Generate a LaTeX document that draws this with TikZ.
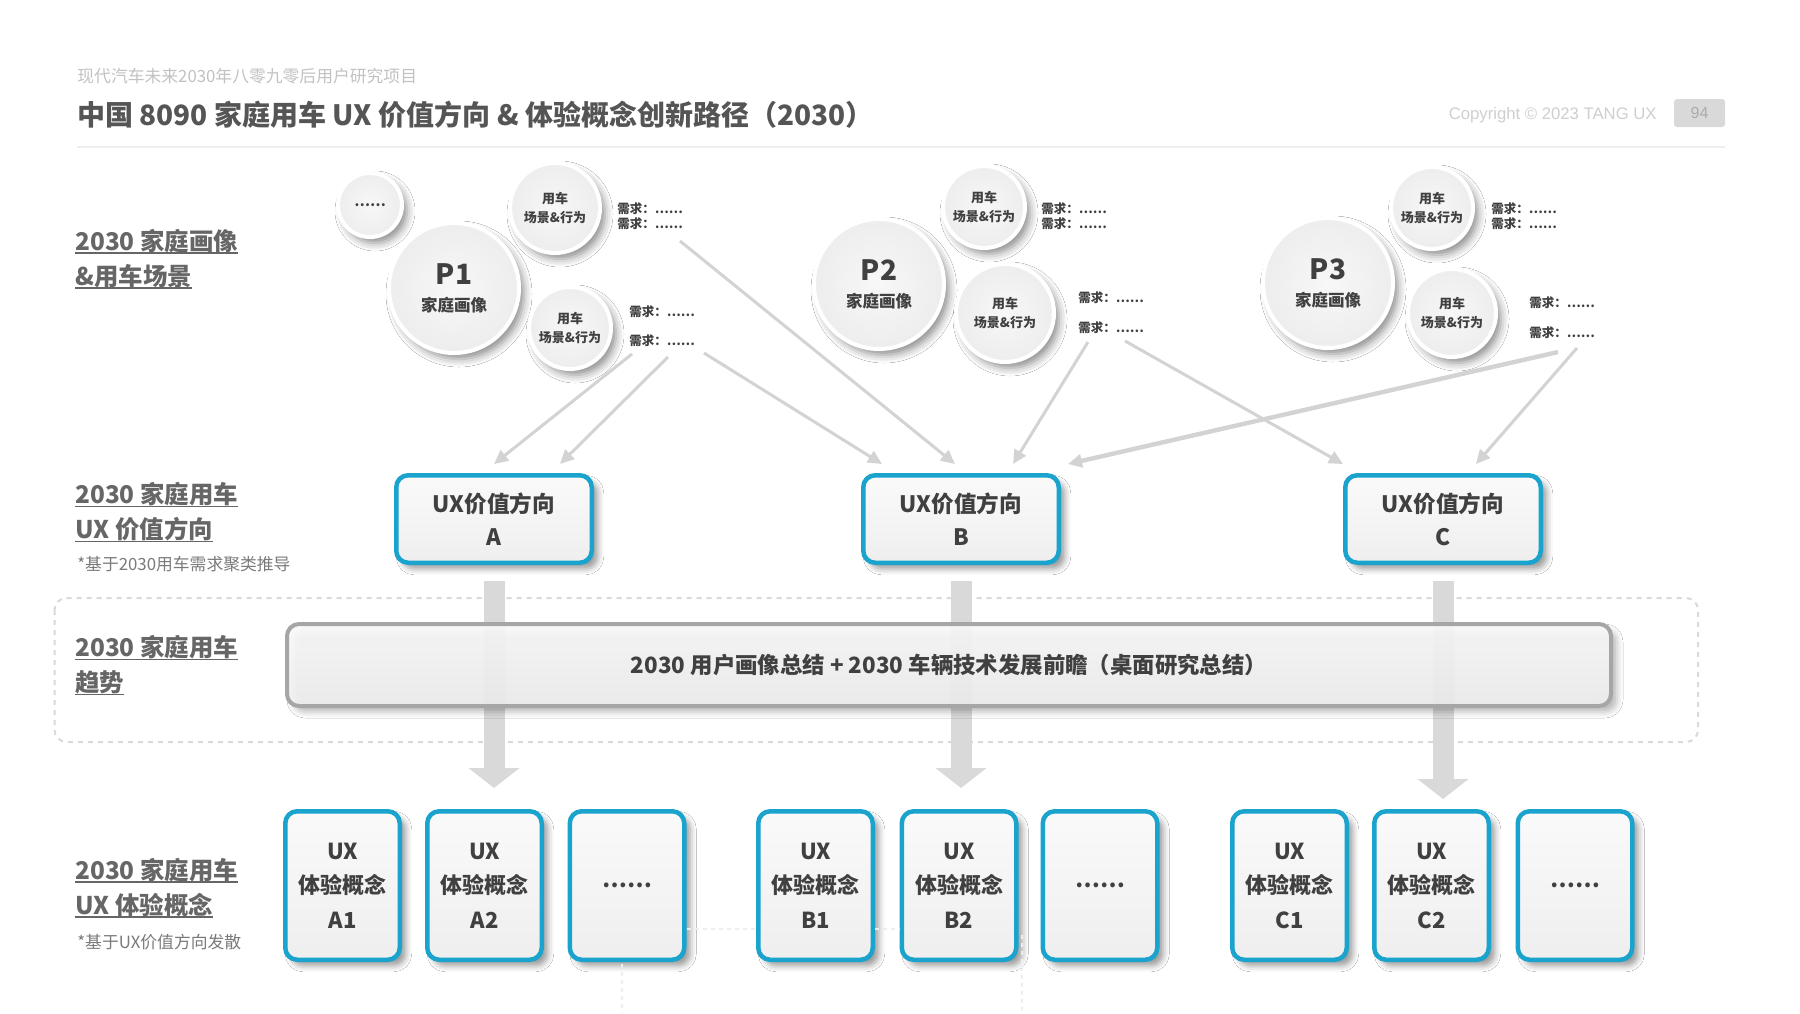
\documentclass[tikz,border=0pt]{standalone}
\usepackage{fontspec}
\setmainfont{Noto Sans CJK SC}
\newfontfamily\latinfont{Liberation Sans}
\usetikzlibrary{arrows.meta,shadows.blur,calc}

\definecolor{uxblue}{HTML}{1AA3CC}
\definecolor{titlegray}{HTML}{555555}
\definecolor{labelgray}{HTML}{666666}
\definecolor{notegray}{HTML}{7A7A7A}
\definecolor{subgray}{HTML}{C2C2C2}
\definecolor{copygray}{HTML}{CFCFCF}
\definecolor{pagegray}{HTML}{D9D9D9}
\definecolor{pagetext}{HTML}{ABABAB}
\definecolor{textgray}{HTML}{404040}
\definecolor{linkgray}{HTML}{D3D3D3}
\definecolor{bargray}{HTML}{D9D9D9}
\definecolor{paleline}{HTML}{EEEEEE}
\definecolor{trendgray}{HTML}{A6A6A6}

\newcommand\rowline[1]{\setbox0\hbox{#1}\rlap{\rule[-1.8pt]{\wd0}{0.9pt}}\box0}

\tikzstyle{persona}=[circle,draw=white,line width=2pt,inner color=gray!6,outer color=gray!14,minimum size=65pt,inner sep=0pt,align=center,text=textgray,font=\bfseries\fontsize{8.25pt}{13.5pt}\selectfont,blur shadow={shadow xshift=2.5pt,shadow yshift=-3pt,shadow blur radius=4pt,shadow opacity=45}]
\tikzstyle{scene}=[persona,font=\bfseries\fontsize{6.5pt}{9.5pt}\selectfont]
\tikzstyle{needtext}=[anchor=west,inner sep=0pt,text=textgray,font=\bfseries\fontsize{6.25pt}{7.5pt}\selectfont]
\tikzstyle{valuebox}=[rectangle,rounded corners=6pt,draw=uxblue,line width=2.25pt,top color=gray!4,bottom color=gray!13,minimum width=97.75pt,minimum height=43.75pt,inner sep=0pt,align=center,text=textgray,font=\bfseries\fontsize{11.3pt}{16.5pt}\selectfont,blur shadow={shadow xshift=3pt,shadow yshift=-3pt,shadow blur radius=3pt,shadow opacity=40}]
\tikzstyle{conceptbox}=[valuebox,minimum width=57.25pt,minimum height=74.25pt,font=\bfseries\fontsize{11pt}{17.25pt}\selectfont]
\tikzstyle{trendbox}=[rectangle,rounded corners=6pt,draw=trendgray,line width=2pt,top color=gray!4,bottom color=gray!12,fill opacity=.9,text opacity=1,minimum width=662pt,minimum height=41pt,inner sep=0pt,text=textgray,font=\bfseries\fontsize{11.2pt}{13pt}\selectfont,blur shadow={shadow xshift=3pt,shadow yshift=-3pt,shadow blur radius=3pt,shadow opacity=30}]
\tikzstyle{sidelabel}=[anchor=west,inner sep=0pt,align=left,text=labelgray,font=\bfseries\fontsize{12.2pt}{17.5pt}\selectfont]
\tikzstyle{sidenote}=[anchor=west,inner sep=0pt,text=notegray,font=\fontsize{8.4pt}{9pt}\selectfont]
\tikzstyle{regionline}=[draw=gray!30,line width=1pt,dash pattern=on 2.5pt off 2.5pt,rounded corners=6pt]
\tikzstyle{linkarrow}=[draw=linkgray,line width=1.5pt,-{Triangle[length=7pt,width=6.5pt]}]
\tikzstyle{flowbar}=[draw=bargray,line width=10.5pt,-{Triangle[length=10pt,width=25pt]}]
\tikzstyle{faint}=[draw=paleline,line width=0.6pt,dash pattern=on 2pt off 2pt]

\begin{document}
\begin{tikzpicture}[x=0.5pt,y=-0.5pt]
    \useasboundingbox[fill=white] (0,0) rectangle (1800,1013);
    %Header
    \node[anchor=west,inner sep=0pt,text=subgray,font=\fontsize{8.4pt}{10pt}\selectfont] (sub) at (77,76) {现代汽车未来2030年八零九零后用户研究项目};
    \node[anchor=west,inner sep=0pt,text=titlegray,font=\bfseries\fontsize{14pt}{17pt}\selectfont] (title) at (77,115) {中国 8090 家庭用车 UX 价值方向 \& 体验概念创新路径（2030）};
    \node[anchor=east,inner sep=0pt,text=copygray,font=\latinfont\fontsize{8.35pt}{10pt}\selectfont] (copy) at (1657,115) {Copyright © 2023 TANG UX};
    \node[fill=pagegray,rounded corners=1.5pt,minimum width=25.5pt,minimum height=14pt,inner sep=0pt,text=pagetext,font=\latinfont\fontsize{8pt}{10pt}\selectfont] (page) at (1699.5,113) {94};
    \draw[paleline,line width=1pt] (77,147) -- (1725,147);

    %Row labels
    \node[sidelabel] (lab1) at (75,259) {\rowline{2030 家庭画像}\\\rowline{\&用车场景}};
    \node[sidelabel] (lab2) at (75,512.5) {\rowline{2030 家庭用车}\\\rowline{UX 价值方向}};
    \node[sidenote] (note2) at (77,564) {*基于2030用车需求聚类推导};
    \node[sidelabel] (lab3) at (75,665.5) {\rowline{2030 家庭用车}\\\rowline{趋势}};
    \node[sidelabel] (lab4) at (75,888) {\rowline{2030 家庭用车}\\\rowline{UX 体验概念}};
    \node[sidenote] (note4) at (77,942) {*基于UX价值方向发散};

    %Persona circles
    \foreach \pos/\name in {{(454,288)/P1}, {(879,284)/P2}, {(1328,283)/P3}}
    \node[persona] (\name) at \pos {{\fontsize{14pt}{13.5pt}\selectfont \name}\\家庭画像};
    \node[persona,minimum size=32pt,font=\bfseries\fontsize{7pt}{8pt}\selectfont] (more) at (370,205) {……};
    %Scene circles
    \foreach \pos/\name/\size in {{(555,208)/s1a/45pt}, {(570,328)/s1b/41pt},
                                  {(984,207)/s2a/41pt}, {(1005,313)/s2b/49pt},
                                  {(1432,208)/s3a/41pt}, {(1452,313)/s3b/44pt}}
    \node[scene,minimum size=\size] (\name) at \pos {用车\\场景\&行为};
    %Needs
    \foreach \pos/\name in {{(617,209)/n1a}, {(617,224)/n1b}, {(629,312)/n1c}, {(629,341)/n1d},
                            {(1041,209)/n2a}, {(1041,224)/n2b}, {(1078,298)/n2c}, {(1078,328)/n2d},
                            {(1491,209)/n3a}, {(1491,224)/n3b}, {(1529,303)/n3c}, {(1529,333)/n3d}}
    \node[needtext] (\name) at \pos {需求：……};

    %Value directions
    \node[valuebox] (vA) at (494,519) {UX价值方向\\A};
    \node[valuebox] (vB) at (961,519) {UX价值方向\\B};
    \node[valuebox] (vC) at (1443,519) {UX价值方向\\C};

    %Links from needs
    \coordinate (l1) at (632,354);
    \coordinate (l2) at (668,357);
    \coordinate (l3) at (704,353);
    \coordinate (l4) at (680,241);
    \coordinate (l5) at (1088,342);
    \coordinate (l6) at (1125,341);
    \coordinate (l7) at (1558,352);
    \coordinate (l8) at (1577,348);
    \draw[linkarrow] (l1) -- ([shift={(0,-9)}]vA.north);
    \draw[linkarrow] (l2) -- ([shift={(66,-9)}]vA.north);
    \draw[linkarrow] (l3) -- ([shift={(-79,-9)}]vB.north);
    \draw[linkarrow] (l4) -- ([shift={(-6,-9)}]vB.north);
    \draw[linkarrow] (l5) -- ([shift={(52,-9)}]vB.north);
    \draw[linkarrow] (l6) -- ([shift={(-100,-9)}]vC.north);
    \draw[linkarrow,line width=2.2pt] (l7) -- ([shift={(107,-9)}]vB.north);
    \draw[linkarrow] (l8) -- ([shift={(33,-9)}]vC.north);

    %Concepts
    \foreach \x/\name/\lab in {342.5/cA1/A1, 484.5/cA2/A2, 815.5/cB1/B1,
                               959/cB2/B2, 1289.5/cC1/C1, 1431.5/cC2/C2}
    \node[conceptbox] (\name) at (\x,885.5) {UX\\体验概念\\\lab};
    \foreach \x/\name in {627/cA3, 1100/cB3, 1575/cC3}
    \node[conceptbox] (\name) at (\x,885.5) {\raisebox{-1.5pt}{……}};
    \draw[faint] (cA3.east |- 0,929) -- (cB1.west |- 0,929);
    \draw[faint] (cB1.east |- 0,929) -- (cB2.west |- 0,929);
    \draw[faint] (622,964) -- (622,1013);
    \draw[faint] (1022,935) -- (1022,1013);

    %Flow bars
    \draw[flowbar,shorten <=8pt] (vA.south) -- ($(vA.south |- cA2.north)+(0,-21)$);
    \draw[flowbar,shorten <=8pt] (vB.south) -- ($(vB.south |- cB2.north)+(0,-21)$);
    \draw[flowbar,shorten <=8pt] (vC.south) -- ($(vC.south |- cC2.north)+(0,-10)$);

    %Trend
    \draw[regionline] (54.5,598) rectangle (1698,742);
    \node[trendbox] (trend) at (949,665) {2030 用户画像总结 + 2030 车辆技术发展前瞻（桌面研究总结）};
\end{tikzpicture}
\end{document}
